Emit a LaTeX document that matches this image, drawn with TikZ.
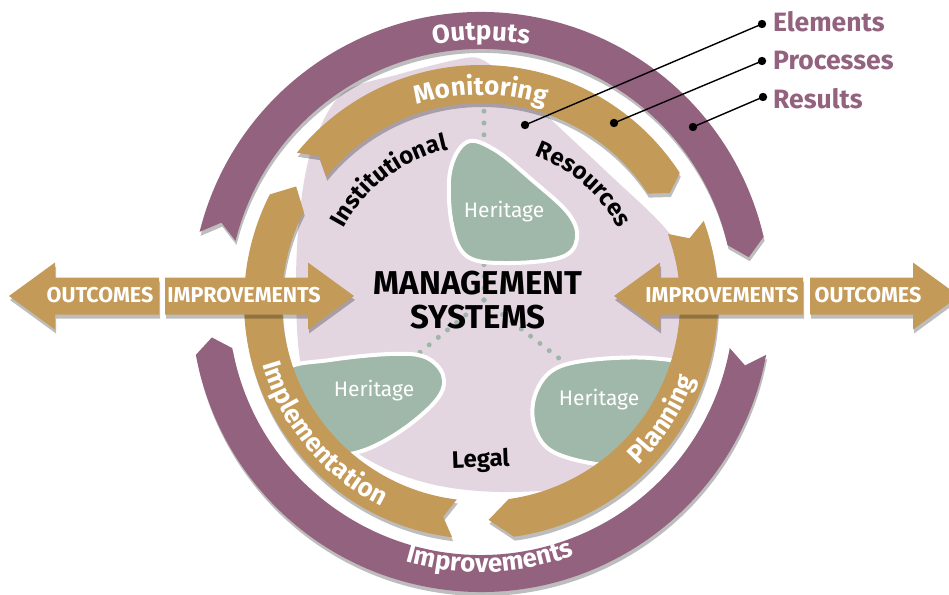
\documentclass[tikz,border=0pt]{standalone}
\usepackage{fontspec}
\setmainfont{Fira Sans}
\usetikzlibrary{decorations.text}
\definecolor{pur}{HTML}{93627F}
\definecolor{gold}{HTML}{C49A58}
\definecolor{lav}{HTML}{E3D6E1}
\definecolor{grn}{HTML}{A0B8A9}
\definecolor{dotc}{HTML}{9DB6A8}
% band arrow: #1 Ri, #2 Ro, #3 Rm, #4 tail angle, #5 head angle, #6 notch, #7 tip
\newcommand{\bandshape}[7]{(#4:#2pt) arc[start angle=#4, end angle=#5, radius=#2pt] -- ({#5-#7}:#3pt) -- (#5:#1pt) arc[start angle=#5, end angle=#4, radius=#1pt] -- ({#4-#6}:#3pt) -- cycle}
\newcommand{\arcfont}{\fontsize{26}{26}\selectfont\bfseries}
\newcommand{\inkfont}{\fontsize{24}{24}\selectfont\bfseries}
\tikzset{
  shd/.style={fill=black, fill opacity=0.26},
  blob/.style={fill=grn, draw=white, line width=4pt},
  dotline/.style={draw=dotc, line width=5pt, line cap=round, dash pattern=on 0pt off 11.8pt},
  hlabel/.style={text=white, font=\fontsize{21.5}{21.5}\selectfont\bfseries, inner sep=0pt},
  herit/.style={text=white, font=\fontsize{21}{21}\selectfont, inner sep=0pt, anchor=base},
  calllab/.style={text=pur, font=\fontsize{26.5}{26.5}\selectfont\bfseries, inner sep=0pt, anchor=base west},
  calldot/.style={fill=black},
}
\newcommand{\LAa}{(9,-296) -- (55,-262.5) -- (55,-277.5) -- (159,-277.5) -- (159,-314.5) -- (55,-314.5) -- (55,-329.5) -- cycle}
\newcommand{\LAb}{(165,-277.5) -- (308,-277.5) -- (308,-262.5) -- (354,-296) -- (308,-329.5) -- (308,-314.5) -- (165,-314.5) -- cycle}
\newcommand{\RAa}{(614,-296) -- (660,-262.5) -- (660,-277.5) -- (803,-277.5) -- (803,-314.5) -- (660,-314.5) -- (660,-329.5) -- cycle}
\newcommand{\RAb}{(810,-277.5) -- (913,-277.5) -- (913,-262.5) -- (959,-296) -- (913,-329.5) -- (913,-314.5) -- (810,-314.5) -- cycle}
\begin{document}
\begin{tikzpicture}[x=1pt,y=1pt]
\useasboundingbox (0,0) rectangle (949,-594);
\clip (0,0) rectangle (949,-594);
\fill[white] (0,0) rectangle (949,-594);

% lavender core
\fill[lav] plot[smooth cycle, tension=0.55] coordinates {(455,-60) (478,-58) (497,-70) (520,-90) (560,-128) (610,-175) (665,-228) (700,-280) (708,-340) (690,-400) (650,-450) (590,-484) (510,-492) (440,-486) (380,-466) (330,-430) (302,-370) (296,-290) (300,-210) (313,-145) (343,-93) (400,-74)};

% dotted links
\coordinate (ctr) at (484,-300);
\coordinate (dtop) at (484,-96);
\coordinate (dleft) at (418,-354);
\coordinate (dright) at (560,-359);
\draw[dotline] (ctr) -- (dtop);
\draw[dotline] (ctr) -- (dleft);
\draw[dotline] (ctr) -- (dright);

% heritage blobs
\filldraw[blob] plot[smooth cycle, tension=0.6] coordinates {(467,-142) (495,-150) (532,-180) (568,-213) (577,-238) (562,-257) (510,-263) (468,-257) (452,-225) (450,-172)};
\filldraw[blob] plot[smooth cycle, tension=0.6] coordinates {(285,-370) (330,-360) (390,-354) (425,-357) (443,-375) (438,-398) (405,-428) (365,-450) (330,-455) (295,-445) (278,-410)};
\filldraw[blob] plot[smooth cycle, tension=0.6] coordinates {(535,-395) (553,-370) (590,-360) (650,-358) (690,-368) (693,-405) (668,-445) (630,-464) (590,-463) (550,-450) (534,-425)};

\node[herit] (h1) at (504,-217) {Heritage};
\node[herit] (h2) at (374,-396) {Heritage};
\node[herit] (h3) at (599,-405) {Heritage};

% rings
\begin{scope}[shift={(481,-302)}]
  % shadows
  \fill[shd, shift={(1,-4)}] \bandshape{253}{290}{271.5}{166}{13}{3}{3.5};
  \fill[shd, shift={(1,-4)}] \bandshape{253}{290}{271.5}{-10.5}{-169.5}{3}{3};
  \fill[shd, shift={(1,-4)}] \bandshape{199}{237}{218}{141}{33}{3}{3};
  \fill[shd, shift={(1,-4)}] \bandshape{199}{237}{218}{20}{-82}{3}{6};
  \fill[shd, shift={(1,-4)}] \bandshape{199}{237}{218}{-97}{-207}{3}{5};
  % bands
  \fill[pur] \bandshape{253}{290}{271.5}{166}{13}{3}{3.5};
  \fill[pur] \bandshape{253}{290}{271.5}{-10.5}{-169.5}{3}{3};
  \fill[gold] \bandshape{199}{237}{218}{141}{33}{3}{3};
  \fill[gold] \bandshape{199}{237}{218}{20}{-82}{3}{6};
  \fill[gold] \bandshape{199}{237}{218}{-97}{-207}{3}{5};
  % curved labels
  \path[decorate, decoration={text along path, text align=center, text={|\arcfont\color{white}|Outputs}}] (130:262pt) arc[start angle=130, end angle=50, radius=262pt];
  \path[decorate, decoration={text along path, text align=center, text={|\arcfont\color{white}|Monitoring}}] (140:207pt) arc[start angle=140, end angle=40, radius=207pt];
  \path[decorate, decoration={text along path, text align=center, text={|\arcfont\color{white}|Improvements}}] (-135:270pt) arc[start angle=-135, end angle=-41, radius=270pt];
  \path[decorate, decoration={text along path, text align=center, text={|\arcfont\color{white}|Implementation}}] (-185:227pt) arc[start angle=-185, end angle=-95, radius=227pt];
  \path[decorate, decoration={text along path, text align=center, text={|\arcfont\color{white}|Planning}}] (-73:227pt) arc[start angle=-73, end angle=7, radius=227pt];
  \path[decorate, decoration={text along path, text align=center, text={|\inkfont\color{black}|Institutional}}] (180:156pt) arc[start angle=180, end angle=74, radius=156pt];
  \path[decorate, decoration={text along path, text align=center, text={|\inkfont\color{black}|Resources}}] (90:156pt) arc[start angle=90, end angle=8, radius=156pt];
\end{scope}

\node[font=\inkfont, inner sep=0pt, anchor=base, rotate=2] (legal) at (481,-467) {Legal};
\node[font=\fontsize{33}{34}\selectfont\bfseries, align=center, inner sep=0pt] (ms) at (478,-300) {MANAGEMENT\\SYSTEMS};

% horizontal arrows
\fill[shd, shift={(1,-4)}] \LAa;
\fill[shd, shift={(1,-4)}] \LAb;
\fill[shd, shift={(1,-4)}] \RAa;
\fill[shd, shift={(1,-4)}] \RAb;
\fill[gold] \LAa;
\fill[gold] \LAb;
\fill[gold] \RAa;
\fill[gold] \RAb;
\node[hlabel] (lo) at (100,-295) {OUTCOMES};
\node[hlabel] (li) at (244,-295) {IMPROVEMENTS};
\node[hlabel] (ri) at (722,-295) {IMPROVEMENTS};
\node[hlabel] (ro) at (868,-295) {OUTCOMES};

% callouts
\coordinate (e1) at (525,-125);
\coordinate (e2) at (762,-24);
\coordinate (p1) at (614,-123);
\coordinate (p2) at (762,-61);
\coordinate (r1) at (693,-127);
\coordinate (r2) at (763,-97);
\draw[line width=1.4pt] (e1) -- (e2);
\draw[line width=1.4pt] (p1) -- (p2);
\draw[line width=1.4pt] (r1) -- (r2);
\foreach \c in {e1,e2,p1,p2,r1,r2} \fill[calldot] (\c) circle[radius=4.2];
\node[calllab] (el) at (773,-32) {Elements};
\node[calllab] (pl) at (773,-70) {Processes};
\node[calllab] (rl) at (773,-108) {Results};
\end{tikzpicture}
\end{document}
